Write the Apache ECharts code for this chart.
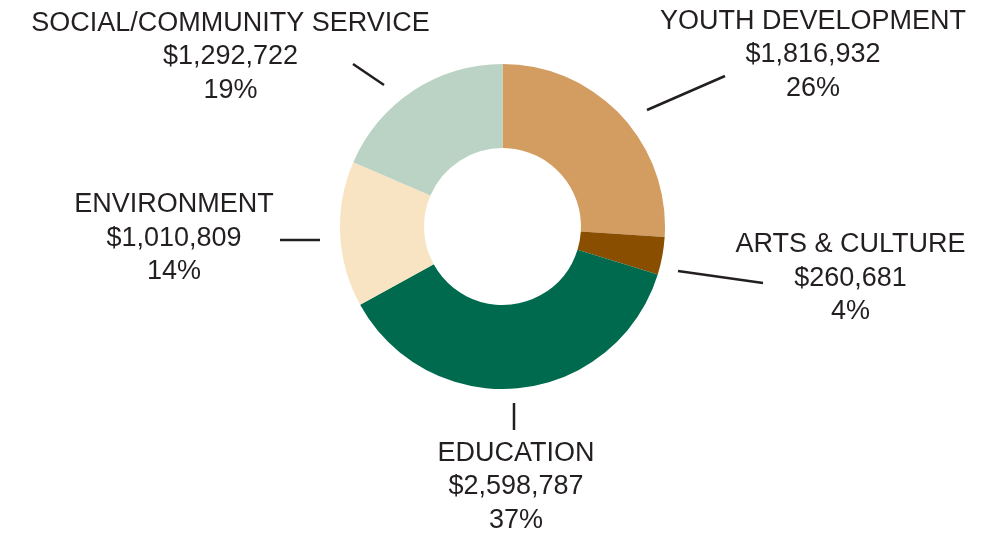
<!DOCTYPE html>
<html>
<head>
<meta charset="utf-8">
<script src="https://cdn.jsdelivr.net/npm/echarts@6/dist/echarts.min.js"></script>
<style>
  html, body { margin: 0; padding: 0; background: #ffffff; }
  #chart { width: 981px; height: 537px; }
</style>
</head>
<body>
<div id="chart"></div>
<script>
// ---- data ----
const categories = ['YOUTH DEVELOPMENT', 'ARTS & CULTURE', 'EDUCATION', 'ENVIRONMENT', 'SOCIAL/COMMUNITY SERVICE'];
const amounts = [1816932, 260681, 2598787, 1010809, 1292722];
const sliceColors = ['#D39D62', '#8A4E00', '#006A4F', '#F8E4C3', '#BAD3C4'];

// ---- label layout (pixel positions of label block centres and leader lines) ----
const labelCenters = [[813, 55], [850.5, 278.5], [516, 487], [174, 238.5], [230.5, 57]];
const leaderLines = [
  [[647, 110], [725, 76]],
  [[678, 271], [763, 283]],
  [[514, 403], [514, 430]],
  [[320, 240], [280, 240]],
  [[384, 85], [353, 64]]
];

const chart = echarts.init(document.getElementById('chart'), null, { renderer: 'canvas' });
chart.setOption({
  animation: false,
  backgroundColor: '#ffffff',
  series: [{
    type: 'pie',
    center: [502.5, 226.5],
    radius: [78.5, 162.5],
    startAngle: 90,
    clockwise: true,
    avoidLabelOverlap: false,
    percentPrecision: 0,
    silent: true,
    data: categories.map((c, i) => ({
      name: c,
      value: amounts[i],
      itemStyle: { color: sliceColors[i] }
    })),
    itemStyle: { borderWidth: 0 },
    label: {
      show: true,
      position: 'outside',
      fontFamily: 'Liberation Sans, Arial, sans-serif',
      fontSize: 27,
      lineHeight: 33.5,
      color: '#231F20',
      align: 'center',
      formatter: p => p.name + '\n$' + p.value.toLocaleString('en-US') + '\n' + p.percent + '%'
    },
    labelLine: {
      show: true,
      length: 20,
      length2: 10,
      lineStyle: { color: '#231F20', width: 2.5 }
    },
    labelLayout: function (params) {
      const i = params.dataIndex;
      const l = leaderLines[i];
      return {
        x: labelCenters[i][0],
        y: labelCenters[i][1],
        align: 'center',
        verticalAlign: 'middle',
        labelLinePoints: [l[0], l[1], l[1]]
      };
    }
  }]
});
</script>
</body>
</html>
